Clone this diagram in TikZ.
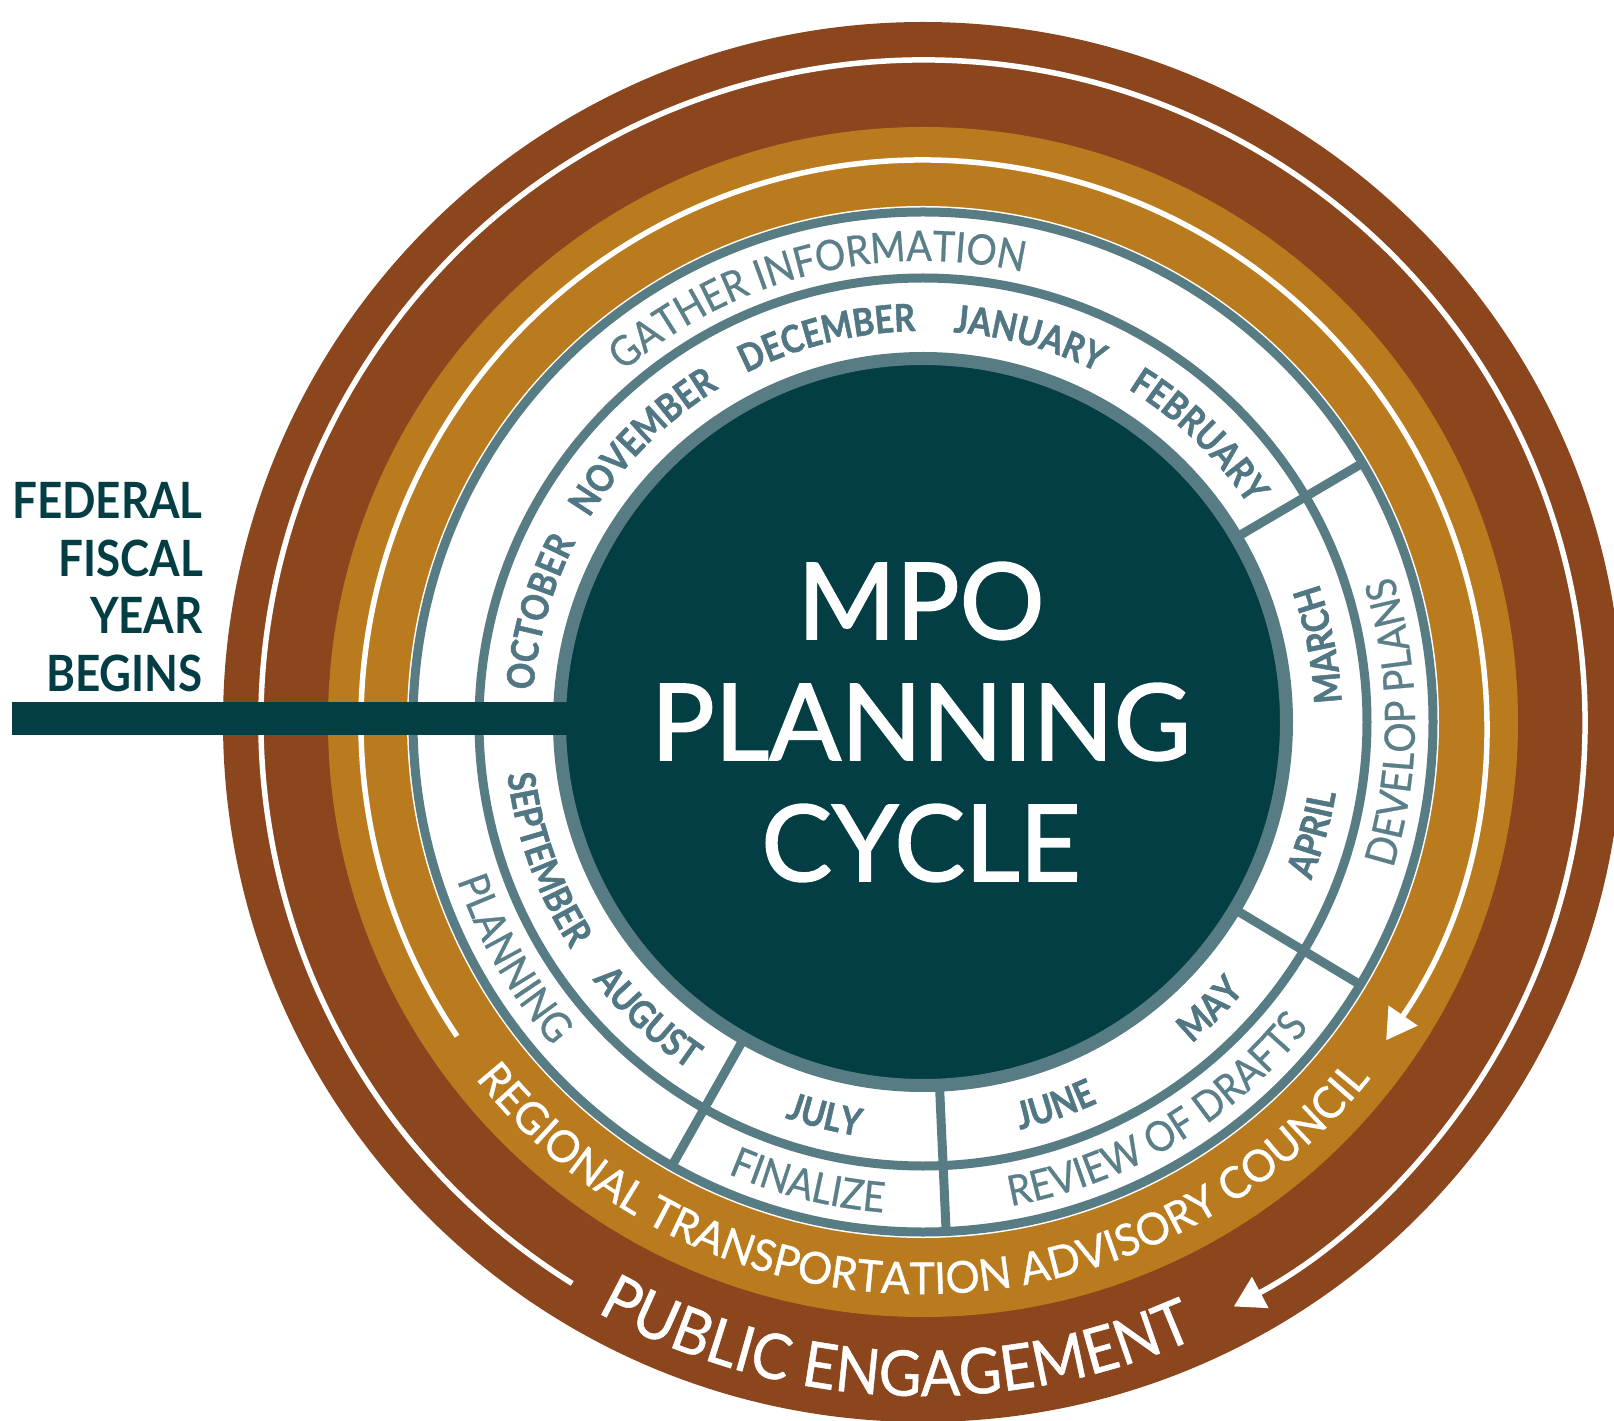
\documentclass[tikz,border=0pt]{standalone}
\usepackage{fontspec}
\setmainfont{Lato}
\newfontfamily\monthfam{Lato}[FakeStretch=0.86,FakeBold=1.3]
\newfontfamily\phasefam{Lato}[FakeStretch=0.9,FakeBold=0.6]
\newfontfamily\fedfam{Lato}[FakeStretch=0.88]
\newfontfamily\titlefam{Lato}[FakeBold=1.6]
\newfontfamily\bandfam{Lato}[FakeStretch=0.97,FakeBold=0.8]
\newfontfamily\pubfam{Lato}[FakeStretch=0.93,FakeBold=0.8]
\usetikzlibrary{decorations.text,arrows.meta}
\definecolor{brownc}{HTML}{8C461E}
\definecolor{goldc}{HTML}{B97B1E}
\definecolor{tealc}{HTML}{033E45}
\definecolor{slatec}{HTML}{587C84}
\definecolor{monthc}{HTML}{507783}
\definecolor{phasec}{HTML}{5B7F89}
\newcommand{\monthfont}{\monthfam\bfseries\fontsize{38}{38}\selectfont}
\newcommand{\phasefont}{\phasefam\fontsize{42}{42}\selectfont}
\newcommand{\rtacfont}{\bandfam\fontsize{44}{44}\selectfont}
\newcommand{\pubfont}{\pubfam\fontsize{63}{63}\selectfont}
% clockwise text (tops outward): angle, radius, half span, colour, format, text
\newcommand{\cwtext}[6]{\path[decorate,decoration={text along path,text align=center,text color=#4,text={|#5|#6}}] ({#1+#3}:#2) arc[start angle={#1+#3},end angle={#1-#3},radius=#2];}
% counter-clockwise text (tops inward)
\newcommand{\ccwtext}[6]{\path[decorate,decoration={text along path,text align=center,text color=#4,text={|#5|#6}}] ({#1-#3}:#2) arc[start angle={#1-#3},end angle={#1+#3},radius=#2];}
\begin{document}
\begin{tikzpicture}[x=1pt,y=1pt,
  ringline/.style={draw=slatec,line width=9pt},
  divider/.style={draw=slatec,line width=9pt},
  whitearrow/.style={draw=white,line width=5.5pt,-{Triangle[length=30pt,width=34pt]}},
  centerdisk/.style={circle,fill=tealc,draw=slatec,line width=13pt,minimum size=727pt,inner sep=0pt},
  fiscalbar/.style={draw=tealc,line width=33pt},
  titletext/.style={text=white,align=center,font=\titlefam\fontsize{106}{121}\selectfont,inner sep=0pt},
  fedtext/.style={text=tealc,align=right,font=\fedfam\bfseries\fontsize{50}{57.5}\selectfont,inner sep=0pt}]
\useasboundingbox (-923,-699) rectangle (691,722);
% bands
\fill[brownc] (0,0) circle[radius=700];
\fill[goldc] (0,0) circle[radius=595];
\fill[white] (0,0) circle[radius=516];
\draw[whitearrow] (238:662) arc[start angle=238,end angle=-62,radius=662];
\draw[whitearrow] (214:562) arc[start angle=214,end angle=-34.5,radius=562];
% rings
\draw[ringline] (0,0) circle[radius=510];
\draw[ringline] (0,0) circle[radius=444];
\foreach \a in {30.5,-31,-87.4,240.5} \draw[divider] (\a:363) -- (\a:510);
\node[centerdisk] (disk) at (0,0) {};
\coordinate (barL) at (-911,3.5);
\draw[fiscalbar] (barL) -- (barL -| disk.center);
\node[titletext] (title) at (-2,0) {MPO\\PLANNING\\CYCLE};
\node[fedtext,anchor=east] (fed) at (-720,134.7) {FEDERAL\\FISCAL\\YEAR\\BEGINS};
% months (top, clockwise)
\cwtext{164}{391}{40}{monthc}{\monthfont}{OCTOBER}
\cwtext{135}{391}{40}{monthc}{\monthfont}{NOVEMBER}
\cwtext{104}{391}{40}{monthc}{\monthfont}{DECEMBER}
\cwtext{74.5}{391}{40}{monthc}{\monthfont}{JANUARY}
\cwtext{46}{391}{40}{monthc}{\monthfont}{FEBRUARY}
% months (bottom, counter-clockwise)
\ccwtext{11}{419}{40}{monthc}{\monthfont}{MARCH}
\ccwtext{-16}{419}{40}{monthc}{\monthfont}{APRIL}
\ccwtext{-45}{419}{40}{monthc}{\monthfont}{MAY}
\ccwtext{-71}{419}{40}{monthc}{\monthfont}{JUNE}
\ccwtext{-104}{419}{40}{monthc}{\monthfont}{JULY}
\ccwtext{227}{419}{40}{monthc}{\monthfont}{AUGUST}
\ccwtext{200}{419}{40}{monthc}{\monthfont}{SEPTEMBER}
% phases
\cwtext{104}{461}{60}{phasec}{\phasefont}{GATHER INFORMATION}
\ccwtext{0}{492}{50}{phasec}{\phasefont}{DEVELOP PLANS}
\ccwtext{-59}{492}{50}{phasec}{\phasefont}{REVIEW OF DRAFTS}
\ccwtext{-104}{492}{40}{phasec}{\phasefont}{FINALIZE}
\ccwtext{210}{492}{40}{phasec}{\phasefont}{PLANNING}
% outer bands
\ccwtext{270}{572}{80}{white}{\rtacfont}{REGIONAL TRANSPORTATION ADVISORY COUNCIL}
\ccwtext{267.5}{674}{45}{white}{\pubfont}{PUBLIC ENGAGEMENT}
\end{tikzpicture}
\end{document}
